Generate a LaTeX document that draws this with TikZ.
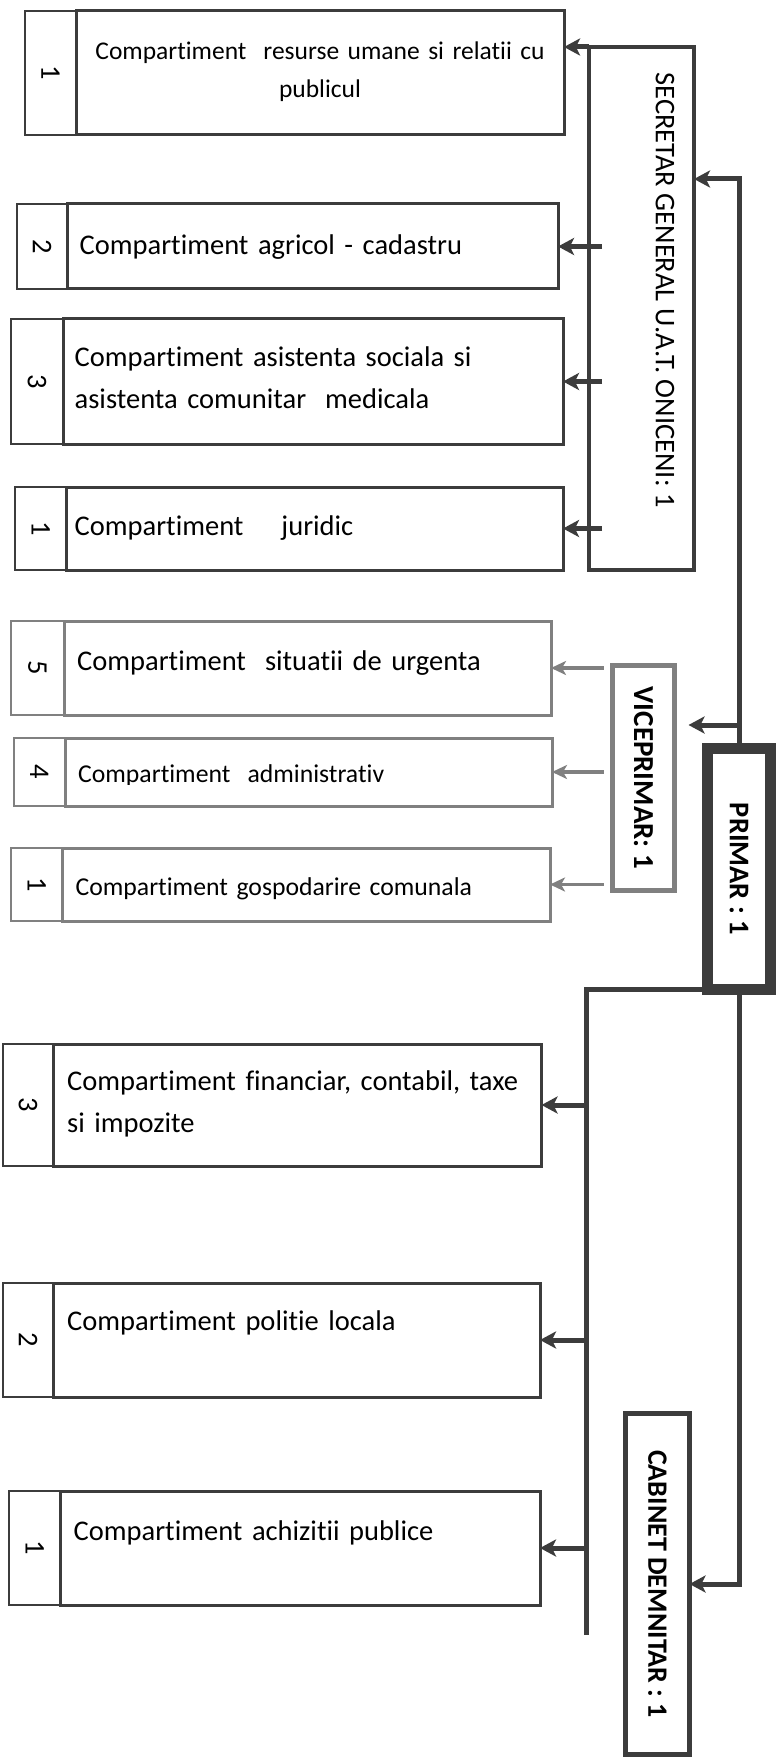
\documentclass[tikz,border=0pt]{standalone}
\usepackage{fontspec}
\setmainfont{Carlito}[Ligatures=NoCommon]
\usetikzlibrary{arrows.meta,calc}
\definecolor{dk}{RGB}{60,60,60}
\definecolor{lt}{RGB}{128,128,128}
\newcommand\deptbox[8]{%
  \node[cellbox,#8,minimum width={#3-#2},minimum height={#6-#5}] (#1n) at (#2,#5) {\rotatebox{-90}{#7}};
  \node[mainbox,#8,minimum width={#4-#3},minimum height={#6-#5}] (#1) at (#3,#5) {};
}
\begin{document}
\begin{tikzpicture}[x=1pt,y=-1pt,
  cellbox/.style={draw=dk,line width=2pt,inner sep=0pt,outer sep=0pt,anchor=north west,font=\fontsize{28.5}{30}\selectfont},
  mainbox/.style={draw=dk,line width=3pt,inner sep=0pt,outer sep=0pt,anchor=north west},
  grayed/.style={draw=lt},
  headbox/.style={draw=dk,inner sep=0pt,outer sep=0pt,anchor=north west,font=\fontsize{28.5}{30}\selectfont\bfseries},
  txt/.style={anchor=base west,inner sep=0pt,text width=480pt,align=left,font=\fontsize{28.5}{42}\selectfont},
  smalltxt/.style={txt,font=\fontsize{25.7}{38}\selectfont},
  conn/.style={draw=dk,line width=5pt,line join=miter},
  arr/.style={conn,-{Stealth[length=16pt,width=17pt,inset=4pt]}},
  garr/.style={draw=lt,line width=3.5pt,-{Stealth[length=15pt,width=14pt,inset=4pt]}},
]
\useasboundingbox (0,0) rectangle (779,1760);
\fill[white] (0,0) rectangle (779,1760);

% department boxes
\deptbox{b1}{25}{76}{564}{11}{135}{1}{}
\deptbox{b2}{16.5}{67.5}{558}{204}{289}{2}{}
\deptbox{b3}{11}{63}{563}{319}{444}{3}{}
\deptbox{b4}{15}{66.5}{563}{487}{570}{1}{}
\deptbox{b5}{11}{64}{551}{621}{715}{5}{grayed}
\deptbox{b6}{13.5}{65}{552}{738}{806}{4}{grayed}
\deptbox{b7}{11}{62.5}{550}{848}{921}{1}{grayed}
\deptbox{b8}{2.5}{53.6}{541.5}{1044}{1166}{3}{}
\deptbox{b9}{2.5}{53.6}{540}{1283}{1397}{2}{}
\deptbox{b10}{9}{60.6}{540}{1491}{1605}{1}{}

% texts
\node[anchor=base,inner sep=0pt,text width=480pt,align=center,font=\fontsize{25.5}{38}\selectfont] (t1) at (320,60) {Compartiment\ \ resurse umane si relatii cu\\publicul};
\node[txt] (t2) at (79.5,255) {Compartiment agricol - cadastru};
\node[txt] (t3) at (74.5,366) {Compartiment asistenta sociala si\\asistenta comunitar\ \ medicala};
\node[txt] (t4) at (74.5,535) {Compartiment\ \ \ \ juridic};
\node[txt] (t5) at (77,670) {Compartiment\ \ situatii de urgenta};
\begin{scope}
  \clip (66,741) rectangle (550,784);
  \node[smalltxt] (t6) at (78,782) {Compartiment\ \ administrativ};
\end{scope}
\node[smalltxt] (t7) at (75.5,895) {Compartiment gospodarire comunala};
\node[txt] (t8) at (67,1090) {Compartiment financiar, contabil, taxe\\si impozite};
\node[txt] (t9) at (67,1330) {Compartiment politie locala};
\node[txt] (t10) at (73.5,1540) {Compartiment achizitii publice};

% leader boxes
\node[headbox,font=\fontsize{28.5}{30}\selectfont,line width=4.5pt,minimum width=105,minimum height=523] (sec) at (589,47) {};
\node[inner sep=0pt,font=\fontsize{28.5}{30}\selectfont] (sect) at (665,290) {\rotatebox{-90}{SECRETAR GENERAL U.A.T. ONICENI: 1}};
\node[headbox,draw=lt,line width=5pt,minimum width=62,minimum height=225,font=\fontsize{29}{30}\selectfont\bfseries] (vice) at (612.5,665.5) {\rotatebox{-90}{VICEPRIMAR: 1}};
\node[headbox,line width=11pt,minimum width=63,minimum height=241] (primar) at (707.5,748.5) {\rotatebox{-90}{PRIMAR : 1}};
\node[headbox,line width=5pt,minimum width=64,minimum height=341,font=\fontsize{28}{30}\selectfont\bfseries] (cab) at (625.5,1413.5) {\rotatebox{-90}{CABINET DEMNITAR : 1}};

% connectors: secretar
\draw[arr] (sec.north west) -- (sec.north west -| b1.east);
\draw[arr] ($(sec.west |- b2.east)+(13,0)$) -- (b2.east);
\draw[arr] ($(sec.west |- b3.east)+(13,0)$) -- (b3.east);
\draw[arr] ($(sec.west |- b4.east)+(13,0)$) -- (b4.east);

% connectors: viceprimar
\draw[garr] ($(vice.west |- b5.east)+(-9,0)$) -- (b5.east);
\draw[garr] ($(vice.west |- b6.east)+(-9,0)$) -- (b6.east);
\draw[garr] ($(vice.west |- b7.east)+(-9,0)$) -- (b7.east);

% connectors: primar
\coordinate (stop) at (739,179);
\draw[arr] (primar.north) |- (sec.east |- stop);
\coordinate (vbr) at (739,725);
\draw[arr,shorten >=14pt] (vbr) -- (vbr -| vice.east);
\coordinate (lbot) at (586,1635);
\draw[conn] (primar.south west) -| (lbot);
\draw[arr] (lbot |- b8.east) -- (b8.east);
\draw[arr] (lbot |- b9.east) -- (b9.east);
\draw[arr] (lbot |- b10.east) -- (b10.east);
\draw[arr] (primar.south) |- (cab.east);
\end{tikzpicture}
\end{document}
